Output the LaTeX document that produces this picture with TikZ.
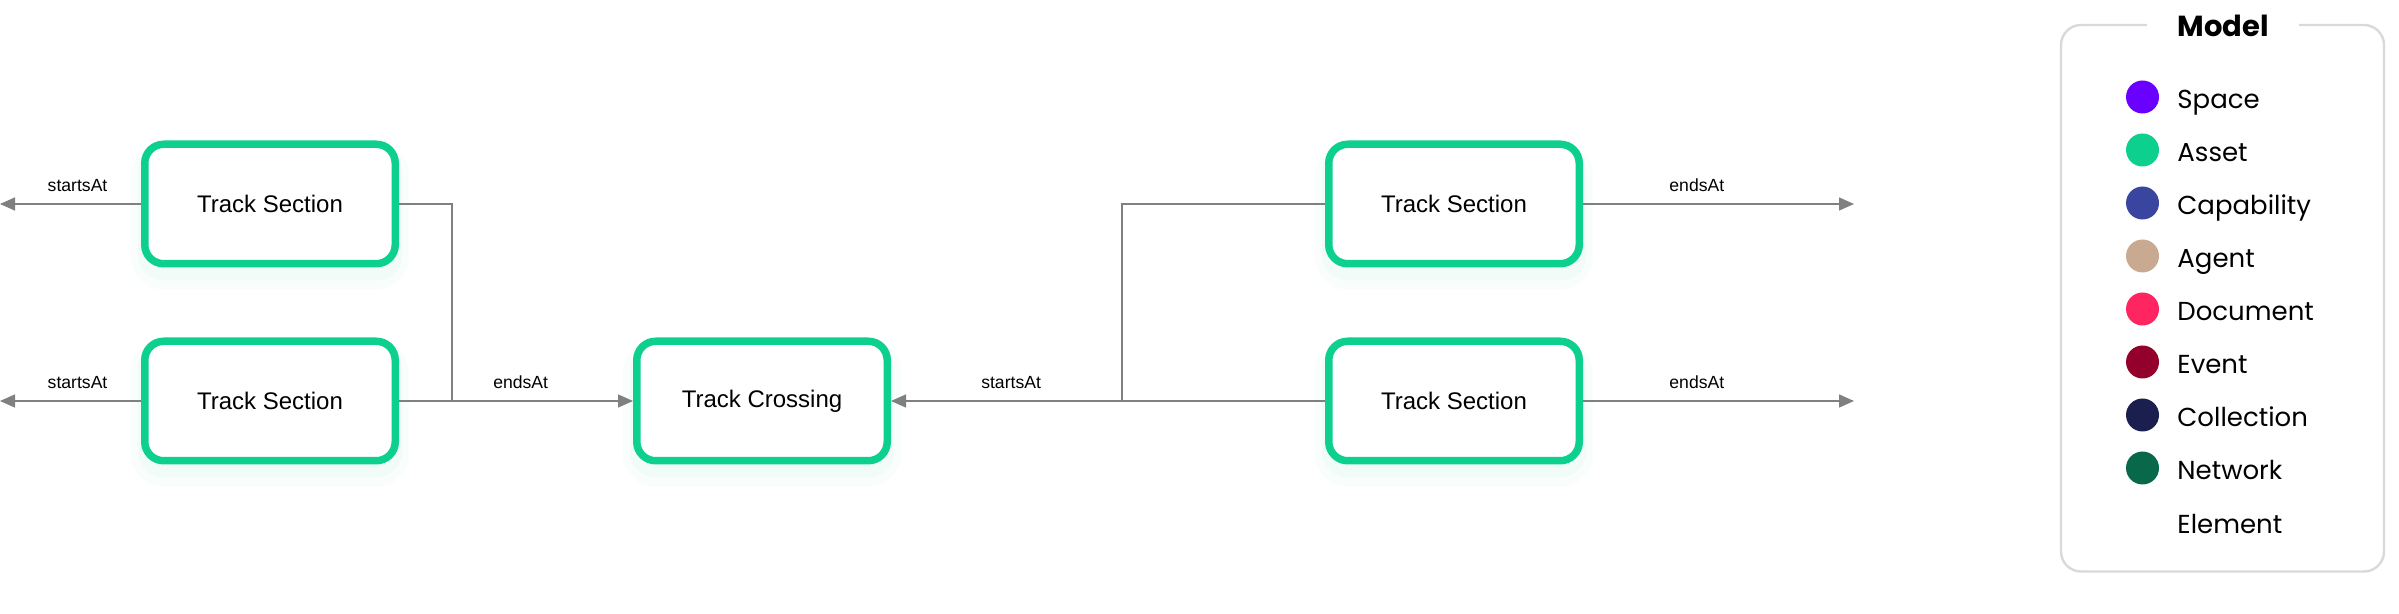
\documentclass[tikz,border=0pt]{standalone}
\usepackage{fontspec}
\setmainfont{Liberation Sans}
\newfontfamily\legendfont{Poppins}
\usetikzlibrary{arrows.meta,shadows}
\definecolor{assetc}{RGB}{14,208,142}
\definecolor{spacec}{RGB}{106,0,255}
\definecolor{capc}{RGB}{58,69,160}
\definecolor{agentc}{RGB}{201,170,145}
\definecolor{docc}{RGB}{255,37,96}
\definecolor{eventc}{RGB}{147,0,43}
\definecolor{collc}{RGB}{27,31,79}
\definecolor{netc}{RGB}{8,104,74}
\definecolor{linec}{RGB}{128,128,128}
\definecolor{legborder}{RGB}{217,217,217}
\tikzset{
  box/.style={draw=assetc, line width=3.75pt, fill=white, rounded corners=9.5pt,
    minimum width=125.25pt, minimum height=59.75pt, inner sep=0pt,
    font=\fontsize{12}{14}\selectfont,
    general shadow={shadow yshift=-6pt, draw=assetc, line width=14pt, opacity=0.025},
    general shadow={shadow yshift=-5pt, draw=assetc, line width=7pt, opacity=0.035}},
  conn/.style={draw=linec, line width=0.75pt},
  arr/.style={conn, -{Triangle[length=7.5pt, width=6.5pt, fill=linec]}},
  lbl/.style={font=\fontsize{8.8}{10}\selectfont, inner sep=0pt, above=6pt},
  legdot/.style={circle, fill=#1, minimum size=16.5pt, inner sep=0pt},
  legtext/.style={anchor=base west, inner sep=0pt, font=\legendfont\fontsize{13}{16}\selectfont},
}
\begin{document}
\begin{tikzpicture}[x=0.5pt, y=-0.5pt]
\useasboundingbox (0,0) rectangle (2399,614);
% nodes
\node[box] (ts1) at (270,204) {Track Section};
\node[box] (ts2) at (270,401) {Track Section};
\node[box] (tc)  at (762,401) {Track Crossing};
\node[box] (ts3) at (1454,204) {Track Section};
\node[box] (ts4) at (1454,401) {Track Section};
% free ends and junctions
\coordinate (l1) at (0,204);
\coordinate (l2) at (0,401);
\coordinate (r1) at (1854,204);
\coordinate (r2) at (1854,401);
\coordinate (j1) at (452,401);
\coordinate (j2) at (1122,401);
% connectors
\draw[arr] (ts1.west) -- node[lbl, pos=0.45] {startsAt} (l1);
\draw[arr] (ts2.west) -- node[lbl, pos=0.45] {startsAt} (l2);
\draw[conn] (ts1.east) -| (j1);
\draw[arr] (ts2.east) -- node[lbl, pos=0.52] {endsAt} (tc.west);
\draw[conn] (ts3.west) -| (j2);
\draw[conn] (ts4.west) -- (j2);
\draw[arr] (j2) -- node[lbl, pos=0.48] {startsAt} (tc.east);
\draw[arr] (ts3.east) -- node[lbl, pos=0.42] {endsAt} (r1);
\draw[arr] (ts4.east) -- node[lbl, pos=0.42] {endsAt} (r2);
% legend
\draw[legborder, line width=1.2pt, rounded corners=10pt] (2061,25) rectangle (2384,571.5);
\node[fill=white, minimum width=76pt, inner sep=0pt, minimum height=14pt,
  font=\legendfont\bfseries\fontsize{14.5}{16}\selectfont] (legtitle) at (2223,26) {Model};
\node[legdot=spacec] (d1) at (2142.5,97) {};
\node[legtext] (t1) at (2177,109) {Space};
\node[legdot=assetc] (d2) at (2142.5,150) {};
\node[legtext] (t2) at (2177,162) {Asset};
\node[legdot=capc] (d3) at (2142.5,203) {};
\node[legtext] (t3) at (2177,215) {Capability};
\node[legdot=agentc] (d4) at (2142.5,256) {};
\node[legtext] (t4) at (2177,268) {Agent};
\node[legdot=docc] (d5) at (2142.5,309) {};
\node[legtext] (t5) at (2177,321) {Document};
\node[legdot=eventc] (d6) at (2142.5,362) {};
\node[legtext] (t6) at (2177,374) {Event};
\node[legdot=collc] (d7) at (2142.5,415) {};
\node[legtext] (t7) at (2177,427) {Collection};
\node[legdot=netc] (d8) at (2142.5,468) {};
\node[legtext] (t8) at (2177,480) {Network};
\node[legtext] (t9) at (2177,533) {Element};
\end{tikzpicture}
\end{document}
